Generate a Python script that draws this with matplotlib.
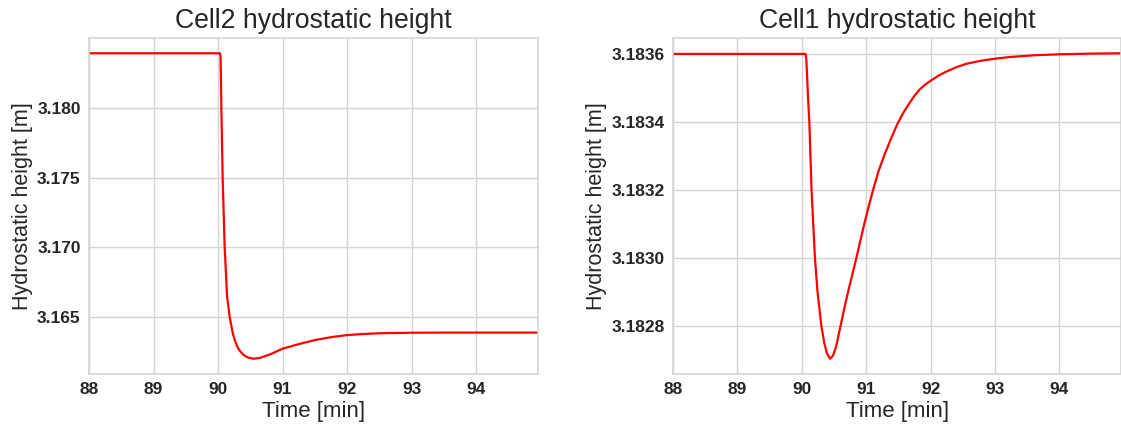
import matplotlib
matplotlib.use("Agg")
import matplotlib.pyplot as plt

# Cell2 hydrostatic height response [time in min, height in m]
cell2_time = [88.00, 90.030, 90.040, 90.052, 90.072, 90.103, 90.140, 90.180,
              90.210, 90.233, 90.265, 90.295, 90.330, 90.372, 90.420, 90.470,
              90.550, 90.650, 90.800, 91.000, 91.250, 91.500, 91.750, 92.000,
              92.250, 92.500, 93.000, 93.500, 94.000, 95.000]
cell2_height = [3.18395, 3.18395, 3.18370, 3.18000, 3.17500, 3.17000, 3.16650, 3.16500,
                3.16425, 3.16373, 3.16325, 3.16289, 3.16260, 3.16237, 3.16218, 3.16206,
                3.16198, 3.16204, 3.16228, 3.16270, 3.16303, 3.16332, 3.16353, 3.16368,
                3.16376, 3.16381, 3.16385, 3.16386, 3.16386, 3.16386]

# Cell1 hydrostatic height response
cell1_time = [88.00, 90.060, 90.070, 90.080, 90.095, 90.118, 90.152, 90.205,
              90.245, 90.305, 90.350, 90.390, 90.440, 90.485, 90.534, 90.585,
              90.650, 90.715, 90.780, 90.845, 90.910, 90.974, 91.040, 91.104,
              91.190, 91.285, 91.390, 91.492, 91.580, 91.674, 91.750, 91.829,
              91.910, 92.000, 92.120, 92.244, 92.400, 92.554, 92.780, 93.000,
              93.230, 93.600, 94.000, 94.500, 95.000]
cell1_height = [3.183600, 3.183600, 3.183585, 3.183550, 3.183480, 3.183400, 3.183200, 3.183000,
                3.182900, 3.182800, 3.182750, 3.182720, 3.182704, 3.182713, 3.182740, 3.182785,
                3.182843, 3.182897, 3.182948, 3.182998, 3.183051, 3.183103, 3.183152, 3.183198,
                3.183254, 3.183304, 3.183353, 3.183397, 3.183428, 3.183456, 3.183477, 3.183495,
                3.183509, 3.183521, 3.183536, 3.183548, 3.183561, 3.183571, 3.183580, 3.183586,
                3.183591, 3.183596, 3.183599, 3.183601, 3.183602]

x_ticks = [88, 89, 90, 91, 92, 93, 94]
cell2_yticks = [3.165, 3.170, 3.175, 3.180]
cell1_yticks = [3.1828, 3.1830, 3.1832, 3.1834, 3.1836]

plt.rcParams["font.family"] = ["Liberation Sans", "DejaVu Sans"]
text_color = "#262626"
grid_color = "#d4d4d4"

fig = plt.figure(figsize=(11.21, 4.25), dpi=100)
ax_left = fig.add_axes([0.0794, 0.12, 0.4005, 0.7906])
ax_right = fig.add_axes([0.6003, 0.12, 0.3999, 0.7906])

panels = [
    (ax_left, cell2_time, cell2_height, "Cell2 hydrostatic height", cell2_yticks, "{:.3f}"),
    (ax_right, cell1_time, cell1_height, "Cell1 hydrostatic height", cell1_yticks, "{:.4f}"),
]

for ax, t, h, title, yticks, fmt in panels:
    ax.set_facecolor("white")
    ax.plot(t, h, color="red", linewidth=1.6, solid_joinstyle="round")
    ax.set_xlim(88, 94.96)
    ax.set_xticks(x_ticks)
    ax.set_xticklabels([str(v) for v in x_ticks])
    ax.set_yticks(yticks)
    ax.set_yticklabels([fmt.format(v) for v in yticks])
    ax.grid(True, color=grid_color, linewidth=1.0)
    ax.set_axisbelow(True)
    for sp in ax.spines.values():
        sp.set_color(grid_color)
        sp.set_linewidth(1.2)
    ax.tick_params(length=0, pad=6, labelsize=12.5, labelcolor=text_color)
    for lbl in ax.get_xticklabels() + ax.get_yticklabels():
        lbl.set_fontweight("bold")
    ax.set_title(title, fontsize=19.2, color=text_color, pad=7)
    ax.set_xlabel("Time [min]", fontsize=16, color=text_color, labelpad=3)
    ax.set_ylabel("Hydrostatic height [m]", fontsize=15.5, color=text_color, labelpad=3)

fig.savefig("out.png", dpi=100)
